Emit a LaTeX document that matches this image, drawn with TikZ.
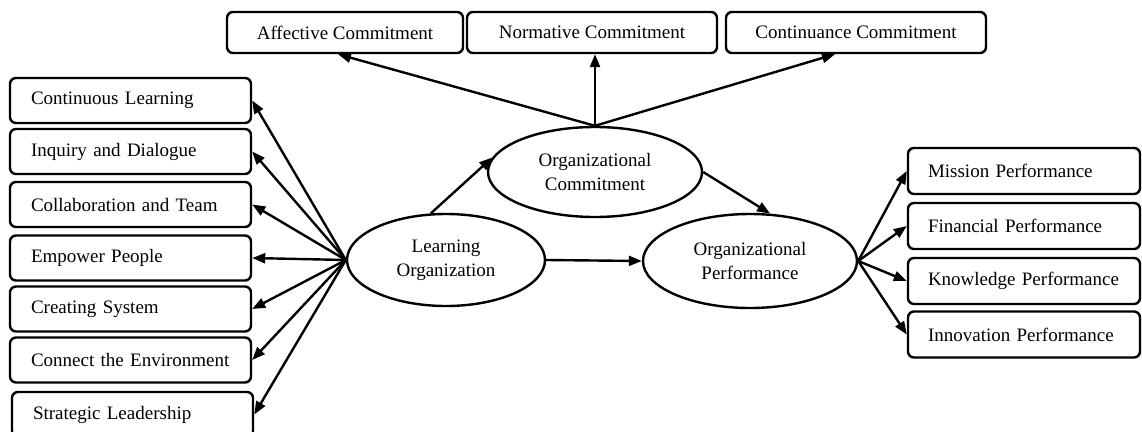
\documentclass[tikz,border=0pt]{standalone}
\usepackage{fontspec}
\setmainfont{Liberation Serif}
\usetikzlibrary{shapes.geometric,arrows.meta}

\begin{document}
\begin{tikzpicture}[x=1pt, y=-1pt,
    font=\fontsize{19}{24}\selectfont,
    lobox/.style={draw, line width=2.4pt, rounded corners=6pt,
      minimum height=45pt, text width=199pt, align=left, inner xsep=21pt},
    commbox/.style={draw, line width=2.4pt, rounded corners=6pt,
      minimum height=41pt, inner xsep=0pt},
    perfbox/.style={draw, line width=2.4pt, rounded corners=6pt,
      minimum height=46pt, text width=192pt, align=left, inner xsep=20pt},
    latent/.style={draw, ellipse, line width=2.4pt, align=center, inner sep=0pt},
    arr/.style={line width=2.4pt, -{Triangle[length=13pt,width=10pt]}}]
  % fix the margins
  \useasboundingbox (0,0) rectangle (1142,431);
  % draw learning organization dimensions
  \node[lobox] (cl) at (130.5,100.5) {Continuous Learning};
  \node[lobox] (id) at (130.5,151.5) {Inquiry and Dialogue};
  \node[lobox] (ct) at (130.5,204.5) {Collaboration and Team};
  \node[lobox] (ep) at (130.5,258)   {Empower People};
  \node[lobox] (cs) at (130.5,309)   {Creating System};
  \node[lobox] (ce) at (130.5,360)   {Connect the Environment};
  \node[lobox] (sl) at (132.5,414.5) {Strategic Leadership};
  % draw commitment dimensions
  \node[commbox, minimum width=236pt] (ac) at (345,32.5) {Affective Commitment};
  \node[commbox, minimum width=250pt] (nc) at (592,32.5) {Normative Commitment};
  \node[commbox, minimum width=260pt] (cc) at (856,32.5) {Continuance Commitment};
  % draw performance dimensions
  \node[perfbox] (mp) at (1024,171)   {Mission Performance};
  \node[perfbox] (fp) at (1024,226)   {Financial Performance};
  \node[perfbox] (kp) at (1024,281)   {Knowledge Performance};
  \node[perfbox] (ip) at (1024,334.5) {Innovation Performance};
  % draw latent variables
  \node[latent, minimum width=198pt, minimum height=92pt] (lo) at (446,260)
        {Learning\\Organization};
  \node[latent, minimum width=214pt, minimum height=90pt] (oc) at (595,172)
        {Organizational\\Commitment};
  \node[latent, minimum width=214pt, minimum height=94pt] (op) at (750,261)
        {Organizational\\Performance};
  % draw paths between latent variables
  \draw[arr] (lo.east) -- (op.west);
  \draw[arr] (lo.108) -- (oc.172);
  \draw[arr] (oc.east) -- (op.67);
  % draw arrows to commitment dimensions
  \draw[arr] (oc.north) -- ([xshift=-7pt]ac.south);
  \draw[arr] (oc.north) -- (oc.north |- nc.south);
  \draw[arr] (oc.north) -- ([xshift=-21pt]cc.south);
  % draw arrows to learning organization dimensions
  \draw[arr] (lo.west) -- (cl.east);
  \draw[arr] (lo.west) -- (id.east);
  \draw[arr] (lo.west) -- (ct.east);
  \draw[arr] (lo.west) -- (ep.east);
  \draw[arr] (lo.west) -- (cs.east);
  \draw[arr] (lo.west) -- (ce.east);
  \draw[arr] (lo.west) -- (sl.east);
  % draw arrows to performance dimensions
  \draw[arr] (op.east) -- (mp.west);
  \draw[arr] (op.east) -- (fp.west);
  \draw[arr] (op.east) -- (kp.west);
  \draw[arr] (op.east) -- (ip.west);
\end{tikzpicture}
\end{document}
